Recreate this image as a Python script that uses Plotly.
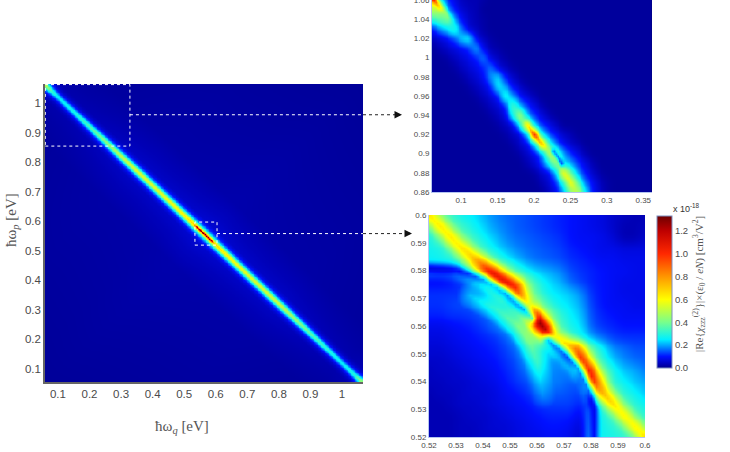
import numpy as np
import plotly.graph_objects as go

W, H = 730, 452

# Re{chi(2)} magnitude, in units of 1e-18 cm^3/V^2 x (eps0/eN)
ZMAX = 1.33
scale_values = [0, 0.03, 0.10, 0.20, 0.25, 0.40, 0.60, 0.80, 1.00, 1.20, 1.33]
scale_colors = ["#00008c", "#0000b4", "#0010ff", "#00a8ff", "#00f0ff", "#78ff8c",
                "#ffff00", "#ff9600", "#ff2800", "#be0000", "#6e0000"]

# Full map: peak value along the band p + q = 1.12, and its fall-off across the band
ridge_q = [0.06, 0.08, 0.10, 0.15, 0.20, 0.25, 0.30, 0.35, 0.40, 0.45, 0.50, 0.53,
           0.545, 0.56, 0.58, 0.60, 0.65, 0.70, 0.75, 0.80, 0.85, 0.90, 0.95, 1.00, 1.04, 1.07]
ridge_peak = [0.50, 0.32, 0.25, 0.28, 0.34, 0.42, 0.50, 0.55, 0.55, 0.58, 0.62, 0.68,
              0.70, 0.72, 0.70, 0.66, 0.60, 0.56, 0.54, 0.52, 0.44, 0.36, 0.30, 0.25, 0.30, 0.50]
band_offset = [0.0, 0.005, 0.01, 0.015, 0.02, 0.03, 0.04, 0.05, 0.10, 0.20, 1.2]
band_falloff = [1.0, 0.88, 0.66, 0.46, 0.31, 0.16, 0.10, 0.07, 0.05, 0.025, 0.0]
map_floor = 0.006
# Thin red core of the full map around the strongest feature
core_q = [0.53, 0.54, 0.555, 0.57, 0.585, 0.595]
core_gain = [0.0, 0.55, 0.60, 0.60, 0.55, 0.0]
core_offset = [0.0, 0.003, 0.006, 0.009]
core_falloff = [1.0, 0.55, 0.12, 0.0]

# Upper inset: band samples per pq row, (first column index, values); elsewhere the floor value
upper_x = [round(0.06 + 0.01 * i, 2) for i in range(31)]
upper_y = [round(1.06 - 0.01 * i, 2) for i in range(21)]
upper_floor = 0.012
upper_rows = [
    (0, [.60, .30, .12, .07, .04, .03, .03, .02]),
    (0, [.50, .50, .22, .10, .06, .04, .03]),
    (0, [.30, .36, .42, .20, .09, .05, .03, .02]),
    (0, [.10, .18, .24, .32, .16, .06, .04, .02]),
    (0, [.04, .06, .09, .14, .24, .28, .08, .04, .02]),
    (1, [.03, .05, .07, .09, .12, .21, .08, .03, .02]),
    (2, [.02, .04, .06, .08, .11, .18, .07, .04, .02]),
    (3, [.02, .04, .06, .08, .11, .17, .07, .04, .02]),
    (4, [.02, .04, .06, .09, .19, .24, .10, .05, .02]),
    (5, [.02, .04, .06, .11, .27, .20, .09, .05, .02]),
    (6, [.02, .04, .06, .11, .31, .20, .10, .06, .03]),
    (7, [.02, .04, .06, .11, .36, .22, .12, .07, .03]),
    (8, [.02, .04, .07, .26, .52, .20, .12, .07, .03]),
    (9, [.02, .04, .06, .26, .62, .22, .12, .08, .04]),
    (10, [.02, .04, .06, .20, .72, .28, .14, .09, .05, .03]),
    (11, [.02, .05, .08, .22, .62, .34, .16, .09, .05, .03]),
    (12, [.02, .05, .08, .16, .46, .40, .20, .12, .07, .03]),
    (13, [.03, .06, .12, .28, .46, .24, .20, .12, .07, .03]),
    (14, [.02, .05, .08, .22, .62, .38, .18, .10, .05, .02]),
    (15, [.03, .06, .12, .30, .60, .36, .16, .09, .04, .02]),
    (16, [.04, .08, .18, .42, .52, .26, .10, .05, .02]),
]
# Thin bright streaks laid over the upper inset: q, p, gain
upper_crest_q = [0.06, 0.075, 0.09, 0.185, 0.20, 0.217, 0.23, 0.245, 0.26]
upper_crest_p = [1.062, 1.05, 1.035, 0.935, 0.92, 0.905, 0.89, 0.875, 0.86]
upper_crest_gain = [0.55, 0.15, 0.0, 0.0, 0.45, 0.10, 0.0, 0.08, 0.0]
# Dark split just below the bright spot: q, p
upper_split_q = [0.226, 0.232, 0.238]
upper_split_p = [0.903, 0.897, 0.890]

# Lower inset: sampled every 4 meV, first row is pq = 0.600
lower_x = [round(0.52 + 0.004 * i, 3) for i in range(21)]
lower_y = [round(0.60 - 0.004 * i, 3) for i in range(21)]
lower_z = [
    [.50, .40, .32, .27, .25, .21, .18, .16, .15, .14, .13, .12, .11, .10, .09, .08, .07, .05, .04, .03, .03],
    [.36, .50, .40, .32, .27, .23, .19, .17, .15, .14, .13, .12, .11, .10, .09, .08, .07, .05, .03, .03, .04],
    [.28, .38, .50, .40, .32, .26, .22, .18, .16, .15, .14, .13, .12, .10, .09, .09, .08, .06, .03, .03, .05],
    [.27, .28, .38, .50, .42, .32, .25, .21, .18, .16, .15, .14, .13, .11, .10, .09, .08, .08, .07, .07, .07],
    [.26, .27, .28, .38, .55, .50, .36, .27, .22, .18, .16, .15, .14, .12, .11, .10, .09, .09, .08, .08, .08],
    [.16, .16, .18, .26, .45, .70, .70, .50, .34, .26, .22, .20, .18, .14, .12, .11, .10, .09, .09, .08, .08],
    [.09, .09, .10, .13, .20, .34, .70, .75, .65, .42, .30, .24, .21, .16, .13, .11, .10, .09, .08, .08, .08],
    [.12, .12, .12, .12, .13, .16, .28, .46, .62, .50, .34, .26, .24, .22, .18, .12, .10, .09, .08, .08, .08],
    [.12, .12, .13, .14, .15, .17, .20, .22, .36, .46, .46, .32, .26, .24, .20, .13, .10, .09, .09, .08, .08],
    [.11, .11, .12, .12, .13, .15, .18, .22, .26, .38, .60, .46, .32, .26, .22, .14, .11, .10, .09, .09, .09],
    [.08, .08, .09, .10, .11, .13, .16, .20, .25, .34, .80, .55, .36, .28, .24, .15, .12, .11, .10, .10, .10],
    [.07, .07, .08, .09, .10, .11, .12, .15, .20, .30, .40, .55, .45, .35, .28, .20, .16, .13, .12, .12, .12],
    [.06, .06, .07, .08, .09, .10, .11, .13, .16, .24, .26, .24, .38, .45, .60, .38, .26, .18, .16, .14, .14],
    [.05, .05, .06, .07, .08, .09, .10, .12, .14, .20, .24, .20, .18, .32, .68, .50, .30, .22, .18, .16, .15],
    [.04, .05, .05, .06, .07, .08, .09, .11, .13, .17, .20, .19, .17, .18, .38, .72, .42, .28, .22, .20, .17],
    [.04, .04, .05, .05, .06, .07, .08, .10, .12, .14, .16, .17, .17, .15, .16, .68, .60, .30, .26, .22, .20],
    [.03, .04, .04, .05, .06, .06, .07, .09, .10, .12, .14, .15, .15, .14, .13, .30, .50, .42, .30, .26, .22],
    [.03, .03, .04, .05, .05, .06, .07, .08, .09, .10, .12, .13, .13, .13, .11, .16, .35, .50, .38, .30, .26],
    [.03, .03, .03, .04, .05, .05, .06, .07, .08, .09, .10, .11, .11, .11, .08, .20, .28, .36, .48, .36, .30],
    [.03, .03, .03, .04, .04, .05, .06, .06, .07, .08, .09, .10, .10, .09, .06, .22, .27, .30, .36, .48, .38],
    [.03, .03, .03, .04, .04, .05, .05, .06, .07, .08, .08, .09, .09, .08, .05, .24, .27, .28, .30, .36, .52],
]
# Bright crest along the lower inset's ridge: q, p, gain
crest_q = [0.52, 0.53, 0.536, 0.543, 0.552, 0.556, 0.559, 0.563, 0.566, 0.574, 0.579, 0.582, 0.59, 0.60]
crest_p = [0.60, 0.59, 0.585, 0.5795, 0.574, 0.567, 0.5635, 0.559, 0.556, 0.552, 0.544, 0.538, 0.53, 0.52]
crest_gain = [0.18, 0.18, 0.22, 0.42, 0.40, 0.16, 0.62, 0.62, 0.16, 0.35, 0.42, 0.32, 0.18, 0.18]
# Dark arcs either side of the centre of the lower inset: q, p
arc_one_q = [0.52, 0.53, 0.54, 0.548, 0.555, 0.558]
arc_one_p = [0.581, 0.5805, 0.577, 0.572, 0.566, 0.563]
arc_two_q = [0.564, 0.57, 0.575, 0.579, 0.581, 0.581]
arc_two_p = [0.555, 0.55, 0.545, 0.537, 0.53, 0.52]
# Pale curve running below the first arc: q, p
pale_q = [0.535, 0.545, 0.553, 0.557, 0.56, 0.562]
pale_p = [0.571, 0.566, 0.560, 0.554, 0.547, 0.535]

# Tick positions and labels
map_ticks = [0.1, 0.2, 0.3, 0.4, 0.5, 0.6, 0.7, 0.8, 0.9, 1.0]
map_ticktext = ["0.1", "0.2", "0.3", "0.4", "0.5", "0.6", "0.7", "0.8", "0.9", "1"]
upper_xticks = [0.1, 0.15, 0.2, 0.25, 0.3, 0.35]
upper_xticktext = ["0.1", "0.15", "0.2", "0.25", "0.3", "0.35"]
upper_yticks = [0.86, 0.88, 0.9, 0.92, 0.94, 0.96, 0.98, 1.0, 1.02, 1.04, 1.06]
upper_yticktext = ["0.86", "0.88", "0.9", "0.92", "0.94", "0.96", "0.98", "1", "1.02", "1.04", "1.06"]
lower_ticks = [0.52, 0.53, 0.54, 0.55, 0.56, 0.57, 0.58, 0.59, 0.6]
lower_ticktext = ["0.52", "0.53", "0.54", "0.55", "0.56", "0.57", "0.58", "0.59", "0.6"]
bar_ticks = [0.0, 0.2, 0.4, 0.6, 0.8, 1.0, 1.2]
bar_ticktext = ["0.0", "0.2", "0.4", "0.6", "0.8", "1.0", "1.2"]

# Regions of the full map that the insets enlarge
box_upper = (0.06, 0.328, 0.854, 1.062)
box_lower = (0.534, 0.604, 0.519, 0.597)
link_upper_y = 0.96
link_lower_y = 0.558


def px(x):
    return x / W


def py(y):
    return 1 - y / H


def refine(xs, ys, z, factor, passes):
    """Resample a sampled table onto a finer grid and soften the cell edges."""
    xs, ys, z = np.asarray(xs), np.asarray(ys), np.asarray(z, dtype=float)
    fx = np.linspace(xs[0], xs[-1], (len(xs) - 1) * factor + 1)
    fy = np.linspace(ys[0], ys[-1], (len(ys) - 1) * factor + 1)
    out = np.array([np.interp(fx, xs, row) for row in z])
    index = np.arange(len(ys))
    findex = np.linspace(0, len(ys) - 1, len(fy))
    out = np.array([np.interp(findex, index, col) for col in out.T]).T
    kernel = np.array([1, 2, 3, 2, 1]) / 9
    for _ in range(passes):
        pad = np.pad(out, 2, mode="edge")
        pad = np.apply_along_axis(lambda v: np.convolve(v, kernel, "same"), 0, pad)
        pad = np.apply_along_axis(lambda v: np.convolve(v, kernel, "same"), 1, pad)
        out = pad[2:-2, 2:-2]
    return fx, fy, out


def along_path(fx, fy, path_x, path_y, gain, reach, falloff):
    """Strength of a hand-traced curve at every grid node."""
    t = np.linspace(0, len(path_x) - 1, 400)
    index = np.arange(len(path_x))
    cx, cy = np.interp(t, index, path_x), np.interp(t, index, path_y)
    cg = np.interp(t, index, gain)
    qq, pp = np.meshgrid(fx, fy)
    dist = np.hypot(qq[..., None] - cx, pp[..., None] - cy)
    nearest = dist.argmin(axis=-1)
    return cg[nearest] * np.interp(dist.min(axis=-1), reach, falloff)


# Full map: band tables on a fine grid
grid = np.arange(0.055, 1.0701, 0.0025)
qq, pp = np.meshgrid(grid, grid)
along = qq - (pp + qq - 1.12) / 2
across = np.abs(pp + qq - 1.12)
map_z = (np.interp(along, ridge_q, ridge_peak) * np.interp(across, band_offset, band_falloff)
         + np.interp(along, core_q, core_gain) * np.interp(across, core_offset, core_falloff)
         + map_floor)

# Upper inset
upper_table = np.full((len(upper_y), len(upper_x)), upper_floor)
for row, (first, values) in enumerate(upper_rows):
    upper_table[row, first:first + len(values)] = values
ux, uy, upper_z = refine(upper_x, upper_y, upper_table, 4, 1)
upper_z = upper_z + along_path(ux, uy, upper_crest_q, upper_crest_p, upper_crest_gain,
                               [0, 0.002, 0.004, 0.007], [1, 0.7, 0.25, 0])
upper_z = upper_z * (1 - 0.6 * along_path(ux, uy, upper_split_q, upper_split_p, [1, 1, 1],
                                          [0, 0.002, 0.004], [1, 0.5, 0]))

# Lower inset
lx, ly, lower_fine = refine(lower_x, lower_y, lower_z, 4, 1)
lower_fine = lower_fine + along_path(lx, ly, crest_q, crest_p, crest_gain,
                                     [0, 0.0015, 0.003, 0.005], [1, 0.7, 0.25, 0])
lower_fine = lower_fine + along_path(lx, ly, pale_q, pale_p, [0.08, 0.12, 0.14, 0.12, 0.10, 0.04],
                                     [0, 0.002, 0.005], [1, 0.6, 0])
for path_q, path_p in ((arc_one_q, arc_one_p), (arc_two_q, arc_two_p)):
    lower_fine = lower_fine * (1 - 0.62 * along_path(lx, ly, path_q, path_p, [1] * len(path_q),
                                                     [0, 0.001, 0.002, 0.003], [1, 0.7, 0.25, 0]))

colorscale = [[v / ZMAX, c] for v, c in zip(scale_values, scale_colors)]
TICK_GRAY = "#4a4a4a"
FRAME = "#b4c4f0"

fig = go.Figure()
fig.add_trace(go.Heatmap(x=grid, y=grid, z=map_z, coloraxis="coloraxis", zsmooth="best",
                         xaxis="x", yaxis="y", hoverinfo="skip"))
fig.add_trace(go.Heatmap(x=ux, y=uy, z=upper_z, coloraxis="coloraxis", zsmooth="best",
                         xaxis="x2", yaxis="y2", hoverinfo="skip"))
fig.add_trace(go.Heatmap(x=lx, y=ly, z=lower_fine, coloraxis="coloraxis", zsmooth="best",
                         xaxis="x3", yaxis="y3", hoverinfo="skip"))


def axis(domain, rng, ticks, text, size, anchor, line=FRAME, width=1):
    return dict(domain=domain, range=rng, tickvals=ticks, ticktext=text, anchor=anchor,
                tickfont=dict(family="Liberation Sans", size=size, color=TICK_GRAY),
                showgrid=False, zeroline=False, ticks="", showline=True,
                linecolor=line, linewidth=width, mirror=False, ticklabeloverflow="allow")


fig.update_layout(
    width=W, height=H, margin=dict(l=0, r=0, t=0, b=0, autoexpand=False),
    paper_bgcolor="white", plot_bgcolor="#00008c", showlegend=False,
    coloraxis=dict(
        cmin=0, cmax=ZMAX, colorscale=colorscale,
        colorbar=dict(
            x=px(657), xanchor="left", y=py(368), yanchor="bottom",
            lenmode="pixels", len=152, thicknessmode="pixels", thickness=15,
            xpad=0, ypad=0, outlinecolor="#7f8fc0", outlinewidth=1,
            tickvals=bar_ticks, ticktext=bar_ticktext, ticks="",
            tickfont=dict(family="Liberation Sans", size=9.5, color=TICK_GRAY),
        ),
    ),
    xaxis=axis([px(45), px(363)], [0.059, 1.0665], map_ticks, map_ticktext, 11.5, "y",
               line="#666666", width=1.5),
    yaxis=axis([py(382), py(84)], [0.056, 1.064], map_ticks, map_ticktext, 11.5, "x",
               line="#666666", width=1.5),
    xaxis2=axis([px(432), px(652)], [0.06, 0.362], upper_xticks, upper_xticktext, 8, "y2"),
    yaxis2=axis([py(192), py(0)], [0.86, 1.06], upper_yticks, upper_yticktext, 8, "x2"),
    xaxis3=axis([px(429), px(645)], [0.52, 0.60], lower_ticks, lower_ticktext, 8, "y3"),
    yaxis3=axis([py(437), py(215)], [0.52, 0.60], lower_ticks, lower_ticktext, 8, "x3"),
)

white_dots = dict(color="white", width=1, dash="dot")
black_dots = dict(color="#222222", width=1, dash="dot")
for x0, x1, y0, y1 in (box_upper, box_lower):
    fig.add_shape(type="rect", xref="x", yref="y", x0=x0, x1=x1, y0=y0, y1=y1, line=white_dots)
fig.add_shape(type="line", xref="x", yref="y", x0=box_upper[1], x1=1.0665,
              y0=link_upper_y, y1=link_upper_y, line=white_dots)
fig.add_shape(type="line", xref="x", yref="y", x0=box_lower[1], x1=1.0665,
              y0=link_lower_y, y1=link_lower_y, line=white_dots)

# Dotted leaders running from the map edge to each inset
for start, end, level in ((363, 402, link_upper_y), (363, 412, link_lower_y)):
    fig.add_shape(type="line", xref="paper", yref="y", x0=px(start), x1=px(end - 3),
                  y0=level, y1=level, line=black_dots)
    fig.add_annotation(xref="paper", yref="y", x=px(end), y=level, text="", showarrow=True,
                       axref="pixel", ayref="pixel", ax=-7, ay=0, arrowhead=2, arrowsize=1,
                       arrowwidth=1.5, arrowcolor="#111111", standoff=0)

serif = dict(family="Liberation Serif", size=15, color="#555555")
centered = dict(xref="paper", yref="paper", xanchor="center", yanchor="middle", showarrow=False)
fig.add_annotation(x=px(182), y=py(427), font=serif, text="ħω<sub><i>q</i></sub> [eV]", **centered)
fig.add_annotation(x=px(12), y=py(220), font=serif, text="ħω<sub><i>p</i></sub> [eV]",
                   textangle=-90, **centered)
fig.add_annotation(x=px(699), y=py(284), textangle=-90, **centered,
                   font=dict(family="Liberation Serif", size=11, color="#555555"),
                   text="|Re{<i>χ</i><sub>zzz</sub><sup>(2)</sup>}|×(ε<sub>0</sub> / <i>eN</i>) [cm<sup>3</sup>/V<sup>2</sup>]")
fig.add_annotation(x=px(686), y=py(208), **centered,
                   font=dict(family="Liberation Sans", size=9, color="#333333"),
                   text="x 10<sup>-18</sup>")

fig.write_html("out.html")
